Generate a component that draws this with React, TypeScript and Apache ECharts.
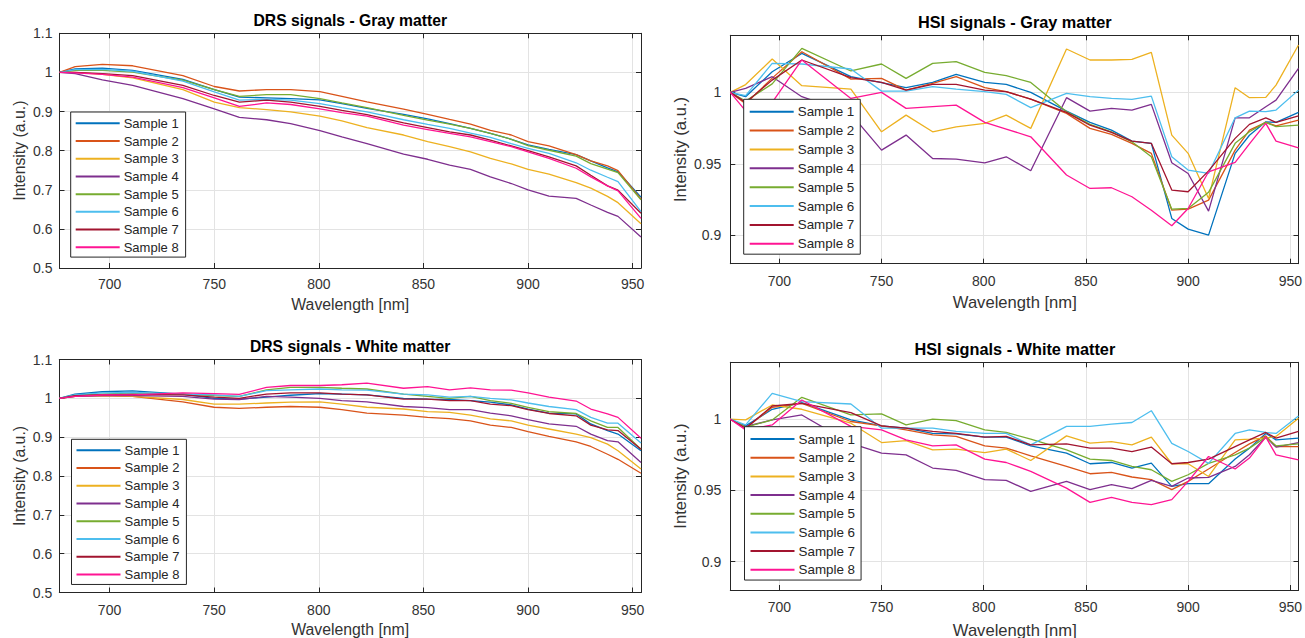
import React, { useEffect, useRef } from "react";
import * as echarts from "echarts";

// ---------------- data ----------------
const WAVELENGTHS = [676, 683.5, 696.5, 711, 735, 750, 762, 775, 786.5, 800.5, 811, 823, 840.5, 852, 862.5, 872.5, 882, 892, 900, 910, 923, 930, 938, 943, 954];
const SAMPLE_NAMES = ["Sample 1", "Sample 2", "Sample 3", "Sample 4", "Sample 5", "Sample 6", "Sample 7", "Sample 8"];

// DRS signals - Gray matter
const DRS_GRAY_1 = [1.0, 1.009, 1.011, 1.005, 0.982, 0.956, 0.937, 0.935, 0.933, 0.93, 0.92, 0.908, 0.893, 0.881, 0.869, 0.857, 0.844, 0.829, 0.815, 0.803, 0.79, 0.774, 0.756, 0.746, 0.681];
const DRS_GRAY_2 = [1.0, 1.015, 1.0204, 1.017, 0.992, 0.964, 0.9525, 0.956, 0.956, 0.951, 0.939, 0.9245, 0.906, 0.893, 0.88, 0.868, 0.852, 0.84, 0.823, 0.812, 0.79, 0.774, 0.761, 0.749, 0.676];
const DRS_GRAY_3 = [1.0, 1.0, 0.995, 0.986, 0.956, 0.924, 0.91, 0.905, 0.899, 0.888, 0.876, 0.859, 0.84, 0.823, 0.81, 0.797, 0.78, 0.766, 0.752, 0.74, 0.718, 0.704, 0.683, 0.667, 0.613];
const DRS_GRAY_4 = [1.0, 0.997, 0.981, 0.967, 0.933, 0.907, 0.885, 0.879, 0.869, 0.851, 0.835, 0.818, 0.791, 0.778, 0.763, 0.752, 0.733, 0.716, 0.7, 0.684, 0.678, 0.661, 0.642, 0.632, 0.579];
const DRS_GRAY_5 = [1.0, 1.005, 1.005, 1.001, 0.98, 0.956, 0.939, 0.943, 0.943, 0.933, 0.922, 0.91, 0.89, 0.878, 0.868, 0.857, 0.844, 0.829, 0.813, 0.801, 0.786, 0.767, 0.753, 0.744, 0.674];
const DRS_GRAY_6 = [1.0, 1.007, 1.008, 1.003, 0.978, 0.95, 0.929, 0.931, 0.929, 0.92, 0.91, 0.899, 0.879, 0.867, 0.857, 0.845, 0.834, 0.818, 0.806, 0.793, 0.769, 0.75, 0.732, 0.721, 0.644];
const DRS_GRAY_7 = [1.0, 1.0, 0.997, 0.992, 0.967, 0.941, 0.924, 0.929, 0.924, 0.913, 0.903, 0.892, 0.871, 0.859, 0.848, 0.84, 0.827, 0.812, 0.8, 0.784, 0.761, 0.737, 0.71, 0.699, 0.64];
const DRS_GRAY_8 = [1.0, 0.999, 0.995, 0.988, 0.961, 0.935, 0.913, 0.922, 0.918, 0.907, 0.897, 0.888, 0.865, 0.854, 0.844, 0.835, 0.823, 0.81, 0.797, 0.78, 0.755, 0.733, 0.71, 0.697, 0.627];

// HSI signals - Gray matter
const HSI_GRAY_1 = [1.0, 0.997, 1.0145, 1.0273, 1.011, 1.0068, 1.0033, 1.007, 1.0126, 1.007, 1.0056, 1.0, 0.9869, 0.979, 0.9736, 0.9659, 0.9643, 0.9117, 0.9042, 0.9, 0.9573, 0.97, 0.9794, 0.979, 0.986];
const HSI_GRAY_2 = [1.0, 0.992, 1.01, 1.0285, 1.0093, 1.0098, 1.0016, 1.0063, 1.011, 1.0033, 1.0005, 0.9953, 0.9853, 0.9748, 0.9706, 0.9643, 0.9573, 0.9175, 0.9182, 0.9245, 0.9596, 0.9736, 0.979, 0.9766, 0.9806];
const HSI_GRAY_3 = [1.0, 1.0055, 1.0234, 1.0047, 1.0023, 0.9724, 0.9841, 0.9724, 0.9759, 0.9783, 0.9841, 0.9748, 1.0304, 1.0227, 1.0227, 1.0231, 1.028, 0.9701, 0.9573, 0.9257, 1.0033, 0.9963, 0.9965, 1.0051, 1.0332];
const HSI_GRAY_4 = [1.0, 1.0028, 1.011, 0.997, 0.985, 0.9596, 0.9701, 0.9537, 0.9533, 0.9507, 0.9549, 0.9451, 0.9963, 0.9869, 0.9888, 0.9876, 0.9916, 0.9507, 0.9432, 0.9168, 0.9822, 0.9822, 0.99, 0.9946, 1.0168];
const HSI_GRAY_5 = [1.0, 0.994, 1.006, 1.0308, 1.015, 1.0199, 1.0098, 1.0203, 1.0215, 1.014, 1.0117, 1.007, 0.9865, 0.9776, 0.9724, 0.9654, 0.9549, 0.9182, 0.9187, 0.93, 0.9643, 0.9724, 0.979, 0.976, 0.9771];
const HSI_GRAY_6 = [1.0, 0.9977, 1.0203, 1.0199, 1.0164, 1.0009, 1.0009, 1.004, 1.0023, 1.0005, 0.9986, 0.9893, 0.9993, 0.997, 0.9958, 0.9951, 0.9974, 0.9549, 0.9456, 0.9432, 0.9822, 0.9869, 0.9865, 0.9876, 1.0016];
const HSI_GRAY_7 = [1.0, 0.993, 1.0086, 1.0227, 1.0103, 1.007, 1.0016, 1.0056, 1.0056, 1.0016, 1.0005, 0.9953, 0.986, 0.977, 0.972, 0.9659, 0.9643, 0.9316, 0.9304, 0.945, 0.9678, 0.9776, 0.9822, 0.979, 0.9836];
const HSI_GRAY_8 = [1.0, 0.987, 0.993, 1.0227, 0.9958, 1.0, 0.9888, 0.99, 0.9911, 0.979, 0.9743, 0.9689, 0.9421, 0.9327, 0.9332, 0.9269, 0.9175, 0.9066, 0.9187, 0.9444, 0.951, 0.964, 0.9783, 0.9659, 0.9612];

// DRS signals - White matter
const DRS_WHITE_1 = [1.0, 1.011, 1.017, 1.019, 1.011, 1.0, 0.998, 1.003, 1.008, 1.012, 1.011, 1.009, 1.0, 0.998, 0.997, 0.994, 0.99, 0.983, 0.972, 0.962, 0.96, 0.934, 0.917, 0.908, 0.865];
const DRS_WHITE_2 = [1.0, 1.005, 1.007, 1.005, 0.991, 0.977, 0.974, 0.977, 0.979, 0.977, 0.971, 0.962, 0.957, 0.951, 0.948, 0.942, 0.931, 0.925, 0.914, 0.902, 0.888, 0.876, 0.856, 0.843, 0.807];
const DRS_WHITE_3 = [1.0, 1.005, 1.007, 1.005, 0.997, 0.985, 0.985, 0.988, 0.99, 0.991, 0.985, 0.977, 0.9725, 0.966, 0.964, 0.957, 0.947, 0.942, 0.931, 0.921, 0.908, 0.899, 0.882, 0.865, 0.818];
const DRS_WHITE_4 = [1.0, 1.005, 1.007, 1.007, 1.005, 0.998, 0.997, 1.005, 1.003, 1.0, 0.994, 0.991, 0.979, 0.976, 0.971, 0.971, 0.962, 0.955, 0.945, 0.934, 0.928, 0.908, 0.891, 0.888, 0.835];
const DRS_WHITE_5 = [1.0, 1.008, 1.011, 1.014, 1.011, 1.007, 1.005, 1.022, 1.028, 1.028, 1.026, 1.024, 1.011, 1.005, 1.0, 1.005, 0.994, 0.987, 0.977, 0.966, 0.961, 0.942, 0.925, 0.925, 0.869];
const DRS_WHITE_6 = [1.0, 1.009, 1.014, 1.015, 1.011, 1.009, 1.005, 1.02, 1.022, 1.024, 1.022, 1.021, 1.011, 1.009, 1.003, 1.005, 1.0, 0.996, 0.988, 0.979, 0.971, 0.951, 0.936, 0.936, 0.885];
const DRS_WHITE_7 = [1.0, 1.007, 1.009, 1.01, 1.009, 1.003, 1.0, 1.011, 1.014, 1.014, 1.011, 1.009, 0.998, 0.998, 0.994, 0.994, 0.985, 0.981, 0.971, 0.961, 0.955, 0.931, 0.919, 0.917, 0.869];
const DRS_WHITE_8 = [1.0, 1.005, 1.0086, 1.009, 1.0138, 1.012, 1.0103, 1.028, 1.033, 1.033, 1.035, 1.039, 1.026, 1.03, 1.022, 1.027, 1.022, 1.021, 1.014, 1.003, 0.993, 0.9725, 0.96, 0.951, 0.897];

// HSI signals - White matter
const HSI_WHITE_1 = [1.0, 0.9953, 1.007, 1.0117, 0.9995, 0.9953, 0.9937, 0.99, 0.9897, 0.9874, 0.9874, 0.9813, 0.9762, 0.9687, 0.9696, 0.9657, 0.9692, 0.9528, 0.9547, 0.9547, 0.972, 0.9797, 0.99, 0.9855, 0.9867];
const HSI_WHITE_2 = [1.0, 0.9937, 1.0084, 1.0112, 0.9984, 0.9953, 0.9925, 0.989, 0.9879, 0.9813, 0.9797, 0.9743, 0.9668, 0.9617, 0.9626, 0.9594, 0.9575, 0.9505, 0.9563, 0.965, 0.9766, 0.9827, 0.9883, 0.9808, 0.9808];
const HSI_WHITE_3 = [1.0, 0.9995, 1.01, 1.007, 0.9972, 0.9836, 0.985, 0.9785, 0.979, 0.9766, 0.979, 0.971, 0.9883, 0.9832, 0.9843, 0.982, 0.9874, 0.9687, 0.9687, 0.9598, 0.9855, 0.986, 0.9867, 0.9879, 1.0007];
const HSI_WHITE_4 = [1.0, 0.9949, 0.9995, 1.003, 0.983, 0.9762, 0.975, 0.9657, 0.964, 0.9575, 0.957, 0.9493, 0.9563, 0.9505, 0.954, 0.9512, 0.957, 0.9528, 0.9587, 0.9591, 0.9668, 0.975, 0.9874, 0.9804, 0.9836];
const HSI_WHITE_5 = [1.0, 0.9944, 0.9995, 1.0154, 1.003, 1.0037, 0.996, 1.0, 0.999, 0.9925, 0.9907, 0.986, 0.9785, 0.972, 0.971, 0.9668, 0.9645, 0.9563, 0.961, 0.969, 0.975, 0.9797, 0.9874, 0.9813, 0.9827];
const HSI_WHITE_6 = [1.0, 0.996, 1.0182, 1.0124, 1.0107, 0.9937, 0.9937, 0.9937, 0.9915, 0.99, 0.99, 0.982, 0.995, 0.995, 0.9965, 0.9977, 1.006, 0.983, 0.9773, 0.969, 0.99, 0.9925, 0.9907, 0.99, 1.0023];
const HSI_WHITE_7 = [1.0, 0.9937, 1.0093, 1.0112, 1.0047, 0.9953, 0.9937, 0.9914, 0.99, 0.9874, 0.9879, 0.982, 0.9827, 0.9797, 0.9797, 0.9773, 0.9804, 0.9687, 0.9696, 0.972, 0.9808, 0.9855, 0.9907, 0.9867, 0.9914];
const HSI_WHITE_8 = [1.0, 0.9925, 0.996, 1.0135, 0.995, 0.9925, 0.9855, 0.9813, 0.982, 0.972, 0.9696, 0.9633, 0.9516, 0.9416, 0.9451, 0.9416, 0.94, 0.9435, 0.9563, 0.9738, 0.965, 0.9727, 0.9874, 0.975, 0.9715];

// ---------------- styling / layout ----------------
const COLORS = ["#0072BD", "#D95319", "#EDB120", "#7E2F8E", "#77AC30", "#4DBEEE", "#A2142F", "#FF1493"];
const FONT = "'Liberation Sans', Arial, Helvetica, sans-serif";
const INK = "#262626";
const TICK_TEXT = "#333333";
const GRID_LINE = "#e3e3e3";

type Panel = {
  title: string;
  lines: number[][];
  grid: { left: number; top: number; width: number; height: number };
  yMin: number;
  yMax: number;
  yInterval?: number;
  ySplit?: number;
  yLabelMargin: number;
  xLabelMargin: number;
  legend: { left: number; top: number; padding: number[]; lineHeight: number; fontSize: number; itemWidth: number };
  titleSize: number;
  labelSize: number;
  titleY: number;
  xNameY: number;
  yNameX: number;
};

const PANELS: Panel[] = [
  {
    title: "DRS signals - Gray matter",
    lines: [DRS_GRAY_1, DRS_GRAY_2, DRS_GRAY_3, DRS_GRAY_4, DRS_GRAY_5, DRS_GRAY_6, DRS_GRAY_7, DRS_GRAY_8],
    grid: { left: 59.5, top: 33.3, width: 581.5, height: 234.7 },
    yMin: 0.5, yMax: 1.1, yInterval: 0.1,
    yLabelMargin: 7, xLabelMargin: 9,
    legend: { left: 70.7, top: 112, padding: [2.5, 7, 1, 5], lineHeight: 17.7, fontSize: 13, itemWidth: 44 },
    titleSize: 15.7, labelSize: 15.8, titleY: 20, xNameY: 304, yNameX: 19.8,
  },
  {
    title: "HSI signals - Gray matter",
    lines: [HSI_GRAY_1, HSI_GRAY_2, HSI_GRAY_3, HSI_GRAY_4, HSI_GRAY_5, HSI_GRAY_6, HSI_GRAY_7, HSI_GRAY_8],
    grid: { left: 730.3, top: 35.3, width: 569, height: 228.4 },
    yMin: 0.88, yMax: 1.04, ySplit: 3,
    yLabelMargin: 9, xLabelMargin: 10,
    legend: { left: 743.7, top: 99.3, padding: [3, 6, 1, 6], lineHeight: 18.86, fontSize: 13.4, itemWidth: 44 },
    titleSize: 16.3, labelSize: 16.6, titleY: 21.7, xNameY: 302.7, yNameX: 680.7,
  },
  {
    title: "DRS signals - White matter",
    lines: [DRS_WHITE_1, DRS_WHITE_2, DRS_WHITE_3, DRS_WHITE_4, DRS_WHITE_5, DRS_WHITE_6, DRS_WHITE_7, DRS_WHITE_8],
    grid: { left: 59.3, top: 359.5, width: 581.7, height: 233 },
    yMin: 0.5, yMax: 1.1, yInterval: 0.1,
    yLabelMargin: 7, xLabelMargin: 10,
    legend: { left: 71.5, top: 439.3, padding: [2, 7, 1, 5], lineHeight: 17.77, fontSize: 13, itemWidth: 44 },
    titleSize: 15.7, labelSize: 15.8, titleY: 346.7, xNameY: 629.3, yNameX: 19.8,
  },
  {
    title: "HSI signals - White matter",
    lines: [HSI_WHITE_1, HSI_WHITE_2, HSI_WHITE_3, HSI_WHITE_4, HSI_WHITE_5, HSI_WHITE_6, HSI_WHITE_7, HSI_WHITE_8],
    grid: { left: 730.3, top: 362.3, width: 569, height: 227.7 },
    yMin: 0.88, yMax: 1.04, ySplit: 3,
    yLabelMargin: 9, xLabelMargin: 10,
    legend: { left: 744.5, top: 426.7, padding: [3, 6, 1, 6], lineHeight: 18.67, fontSize: 13.4, itemWidth: 44 },
    titleSize: 16.3, labelSize: 16.6, titleY: 349.3, xNameY: 630, yNameX: 680.7,
  },
];

const X_MIN = 676;
const X_MAX = 954;

function buildOption() {
  const grids: any[] = [];
  const xAxes: any[] = [];
  const yAxes: any[] = [];
  const series: any[] = [];
  const legends: any[] = [];
  const graphics: any[] = [];

  PANELS.forEach((p, i) => {
    grids.push({ ...p.grid, containLabel: false, show: false });
    const lineStyle = { color: INK, width: 1 };
    const labelStyle = { fontSize: 14, color: TICK_TEXT, fontFamily: FONT };
    xAxes.push({
      type: "value", gridIndex: i, min: X_MIN, max: X_MAX, position: "bottom",
      axisLine: { show: true, onZero: false, lineStyle },
      axisTick: { show: true, inside: true, length: 5, lineStyle },
      axisLabel: { ...labelStyle, margin: p.xLabelMargin, showMinLabel: false, showMaxLabel: false },
      splitLine: { show: true, lineStyle: { color: GRID_LINE, width: 1 } },
    });
    xAxes.push({
      type: "value", gridIndex: i, min: X_MIN, max: X_MAX, position: "top",
      axisLine: { show: true, onZero: false, lineStyle },
      axisTick: { show: true, inside: true, length: 5, lineStyle },
      axisLabel: { show: false },
      splitLine: { show: false },
    });
    const yCommon: any = { type: "value", gridIndex: i, min: p.yMin, max: p.yMax };
    if (p.yInterval) yCommon.interval = p.yInterval;
    if (p.ySplit) yCommon.splitNumber = p.ySplit;
    yAxes.push({
      ...yCommon, position: "left",
      axisLine: { show: true, onZero: false, lineStyle },
      axisTick: { show: true, inside: true, length: 5, lineStyle },
      axisLabel: { ...labelStyle, margin: p.yLabelMargin, showMinLabel: !p.ySplit, showMaxLabel: !p.ySplit },
      splitLine: { show: true, lineStyle: { color: GRID_LINE, width: 1 } },
    });
    yAxes.push({
      ...yCommon, position: "right",
      axisLine: { show: true, onZero: false, lineStyle },
      axisTick: { show: true, inside: true, length: 5, lineStyle },
      axisLabel: { show: false },
      splitLine: { show: false },
    });

    p.lines.forEach((vals, k) => {
      series.push({
        type: "line",
        name: SAMPLE_NAMES[k],
        xAxisIndex: 2 * i,
        yAxisIndex: 2 * i,
        data: WAVELENGTHS.map((w, j) => [w, vals[j]]),
        symbol: "none",
        lineStyle: { color: COLORS[k], width: 1.3 },
        itemStyle: { color: COLORS[k] },
        silent: true,
        z: 2 + k * 0.01,
      });
    });

    legends.push({
      orient: "vertical",
      left: p.legend.left,
      top: p.legend.top,
      padding: p.legend.padding,
      itemGap: 0,
      itemWidth: p.legend.itemWidth,
      itemHeight: 2,
      icon: "rect",
      borderColor: INK,
      borderWidth: 1,
      borderRadius: 0,
      backgroundColor: "#ffffff",
      selectedMode: false,
      data: SAMPLE_NAMES,
      textStyle: { fontSize: p.legend.fontSize, fontFamily: FONT, color: INK, lineHeight: p.legend.lineHeight, padding: [0, 0, 0, -1] },
      z: 10,
    });

    const cx = p.grid.left + p.grid.width / 2;
    const cy = p.grid.top + p.grid.height / 2;
    graphics.push({
      type: "text", x: cx, y: p.titleY, z: 20,
      style: { text: p.title, font: `bold ${p.titleSize}px ${FONT}`, fill: "#000000", align: "center", verticalAlign: "middle" },
    });
    graphics.push({
      type: "text", x: cx, y: p.xNameY, z: 20,
      style: { text: "Wavelength [nm]", font: `${p.labelSize}px ${FONT}`, fill: TICK_TEXT, align: "center", verticalAlign: "middle" },
    });
    graphics.push({
      type: "text", x: p.yNameX, y: cy, rotation: Math.PI / 2, z: 20,
      style: { text: "Intensity (a.u.)", font: `${p.labelSize}px ${FONT}`, fill: TICK_TEXT, align: "center", verticalAlign: "middle" },
    });
  });

  return {
    animation: false,
    backgroundColor: "#ffffff",
    grid: grids,
    xAxis: xAxes,
    yAxis: yAxes,
    legend: legends,
    series,
    graphic: graphics,
  };
}

export default function App() {
  const ref = useRef<HTMLDivElement>(null);
  useEffect(() => {
    document.body.style.margin = "0";
    if (!ref.current) return;
    const chart = echarts.init(ref.current, undefined, { renderer: "svg" });
    chart.setOption(buildOption() as any);
    return () => chart.dispose();
  }, []);
  return <div ref={ref} style={{ width: 1305, height: 638 }} />;
}
